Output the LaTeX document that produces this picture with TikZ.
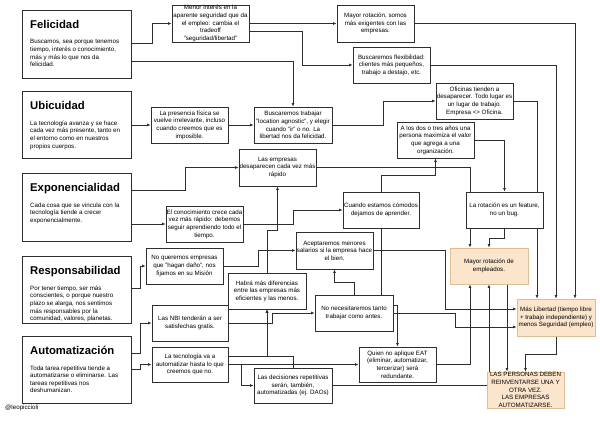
\documentclass[tikz,border=0pt]{standalone}
\usepackage{fontspec}
\setmainfont{Liberation Sans}
\usetikzlibrary{arrows.meta}
\pgfdeclarelayer{bg}
\pgfsetlayers{bg,main}
\definecolor{ln}{HTML}{2E2E2E}
\definecolor{ofill}{HTML}{FCE5CD}
\definecolor{odraw}{HTML}{E2BC8E}
\begin{document}
\begin{tikzpicture}[x=1pt,y=-1pt,
  sb/.style={draw=ln, line width=0.9pt, fill=white, inner sep=0pt, align=center, font=\fontsize{6.2}{7.6}\selectfont},
  ob/.style={sb, fill=ofill, draw=odraw},
  bigbox/.style={draw=ln, line width=0.9pt, fill=white, inner sep=0pt},
  ttl/.style={anchor=base west, inner sep=0pt, font=\fontsize{11.3}{13}\selectfont\bfseries},
  bdy/.style={anchor=north west, inner sep=0pt, align=left, font=\fontsize{6.2}{7.6}\selectfont},
  con/.style={draw=ln, line width=0.9pt, -{Latex[length=3.5pt,width=3pt]}},
  cred/.style={anchor=west, inner sep=0pt, font=\fontsize{6.2}{7.6}\selectfont}
]
\useasboundingbox (0,0) rectangle (600,423);
\begin{pgfonlayer}{bg}
\fill[white] (0,0) rectangle (600,423);
\end{pgfonlayer}

% big boxes
\node[bigbox, minimum width=109pt, minimum height=68pt] (fel) at (76.5,44) {};
\node[ttl] (felt) at (30,28) {Felicidad};
\node[bdy] (felb) at (30,39.5) {Buscamos, sea porque tenemos\\tiempo, interés o conocimiento,\\más y más lo que nos da\\felicidad.};

\node[bigbox, minimum width=109pt, minimum height=67pt] (ubi) at (76.5,124.5) {};
\node[ttl] (ubit) at (30,109) {Ubicuidad};
\node[bdy] (ubib) at (30,120.5) {La tecnología avanza y se hace\\cada vez más presente, tanto en\\el entorno como en nuestros\\propios cuerpos.};

\node[bigbox, minimum width=109pt, minimum height=68pt] (exp) at (76.5,207) {};
\node[ttl] (expt) at (30,191) {Exponencialidad};
\node[bdy] (expb) at (30,202.5) {Cada cosa que se vincula con la\\tecnología tiende a crecer\\exponencialmente.};

\node[bigbox, minimum width=109pt, minimum height=67pt] (res) at (76.5,289.5) {};
\node[ttl] (rest) at (30,274) {Responsabilidad};
\node[bdy] (resb) at (30,285.5) {Por tener tiempo, ser más\\conscientes, o porque nuestro\\plazo se alarga, nos sentimos\\más responsables por la\\comunidad, valores, planetas.};

\node[bigbox, minimum width=109pt, minimum height=67pt] (aut) at (76.5,369.5) {};
\node[ttl] (autt) at (30,354) {Automatización};
\node[bdy] (autb) at (30,365.5) {Toda tarea repetitiva tiende a\\automatizarse o eliminarse. Las\\tareas repetitivas nos\\deshumanizan.};

\node[cred] (credit) at (5,408) {@leopiccioli};

% small boxes
\node[sb, minimum width=77pt, minimum height=37pt] (menor) at (210.5,23.5) {Menor interés en la\\aparente seguridad que da\\el empleo: cambia el\\tradeoff\\"seguridad/libertad"};
\node[sb, minimum width=77pt, minimum height=37pt] (mayrotA) at (375.5,23.5) {Mayor rotación, somos\\más exigentes con las\\empresas.};
\node[sb, minimum width=77pt, minimum height=36pt] (flex) at (391.5,65) {Buscaremos flexibilidad:\\clientes más pequeños,\\trabajo a destajo, etc.};
\node[sb, minimum width=77pt, minimum height=36pt] (ofic) at (474.5,101) {Oficinas tienden a\\desaparecer. Todo lugar es\\un lugar de trabajo.\\Empresa <> Oficina.};
\node[sb, minimum width=77pt, minimum height=36pt] (alos) at (435.5,140) {A los dos o tres años una\\persona maximiza el valor\\que agrega a una\\organización.};
\node[sb, minimum width=77pt, minimum height=36pt] (pres) at (189.5,125) {La presencia física se\\vuelve irrelevante, incluso\\cuando creemos que es\\imposible.};
\node[sb, minimum width=78pt, minimum height=36pt] (btrab) at (293,125) {Buscaremos trabajar\\"location agnostic", y elegir\\cuando "ir" o no. La\\libertad nos da felicidad.};
\node[sb, minimum width=77pt, minimum height=37pt] (lemp) at (277.5,167.5) {Las empresas\\desaparecen cada vez más\\rápido};
\node[sb, minimum width=77pt, minimum height=36pt] (conoc) at (204.5,224) {El conocimiento crece cada\\vez más rápido: debemos\\seguir aprendiendo todo el\\tiempo.};
\node[sb, minimum width=76pt, minimum height=36pt] (cuando) at (381,210) {Cuando estamos cómodos\\dejamos de aprender.};
\node[sb, minimum width=77pt, minimum height=36pt] (larot) at (504.5,210) {La rotación es un feature,\\no un bug.};
\node[sb, minimum width=77pt, minimum height=36pt] (noq) at (184.5,266) {No queremos empresas\\que "hagan daño", nos\\fijamos en su Misión};
\node[sb, minimum width=77pt, minimum height=37pt] (acept) at (334.5,250.5) {Aceptaremos menores\\salarios si la empresa hace\\el bien.};
\node[ob, minimum width=78pt, minimum height=36pt] (mayrot) at (489,266) {Mayor rotación de\\empleados.};
\node[sb, minimum width=78pt, minimum height=36pt] (habra) at (267,291) {Habrá más diferencias\\entre las empresas más\\eficientes y las menos.};
\node[sb, minimum width=76pt, minimum height=36pt] (nbi) at (190,323) {Las NBI tenderán a ser\\satisfechas gratis.};
\node[sb, minimum width=78pt, minimum height=36pt] (nonec) at (354,313) {No necesitaremos tanto\\trabajar como antes.};
\node[ob, minimum width=78pt, minimum height=37pt] (mas) at (556,317.5) {Más Libertad (tiempo libre\\+ trabajo independiente) y\\menos Seguridad (empleo)};
\node[sb, minimum width=76pt, minimum height=35pt] (tec) at (190,364.5) {La tecnología va a\\automatizar hasta lo que\\creemos que no.};
\node[sb, minimum width=77pt, minimum height=35pt] (quien) at (397.5,364.5) {Quien no aplique EAT\\(eliminar, automatizar,\\tercerizar) será\\redundante.};
\node[sb, minimum width=78pt, minimum height=35pt] (dec) at (293,385.5) {Las decisiones repetitivas\\serán, también,\\automatizadas (ej. DAOs)};
\node[ob, minimum width=77pt, minimum height=36pt] (lasp) at (525.5,390) {LAS PERSONAS DEBEN\\REINVENTARSE UNA Y\\OTRA VEZ.\\LAS EMPRESAS\\AUTOMATIZARSE.};

\begin{pgfonlayer}{bg}
\draw[con] (fel.east |- 0,43) -- (152,43) |- (menor.west);
\draw[con] (fel.east |- 0,61) -| (btrab.north);
\draw[con] (ubi.east |- pres.west) -- (pres.west);
\draw[con] (pres.east) -- (btrab.west);
\draw[con] (btrab.east) -- (383,125) |- (ofic.west);
\draw[con] (menor.east) -- (mayrotA.west);
\draw[con] (menor.east |- 0,31) -- (302,31) |- (flex.west);
\draw[con] (mayrotA.east) -| (mas.north -| 575,0);
\draw[con] (flex.east) -| (mas.north);
\draw[con] (ofic.east) -| (mas.north -| 537,0);
\draw[con] (alos.east) -| (larot.north);
\draw[con] (cuando.north) -- (381,175) -| (alos.south);
\draw[con] (conoc.east) -- (293,224) |- (cuando.west);
\draw[con] (exp.east |- 0,190) -- (185,190) |- (lemp.west);
\draw[con] (exp.east |- conoc.west) -- (conoc.west);
\draw[con] (lemp.east) -| (mayrot.north -| 470,0);
\draw[con] (larot.south) -- (504.5,238) -| (mayrot.north);
\draw[con] (habra.north) -- (267,230) -| (lemp.south);
\draw[con] (res.east |- 0,288) -- (140,288) |- (noq.west);
\draw[con] (noq.east) -- (258,266) |- (acept.west);
\draw[con] (acept.east) -- (445,250.5) |- (mas.west |- 0,309);
\draw[con] (nonec.north) -- (354,282) -| (acept.south);
\draw[con] (nonec.east) -- (455,313) |- (mas.west |- 0,327);
\draw[con] (nbi.east) -- (272,323) |- (nonec.west);
\draw[con] (aut.east |- 0,353) -- (140,353) |- (nbi.west);
\draw[con] (aut.east |- 0,369) -- (140,369) |- (tec.west);
\draw[con] (tec.east) -- (quien.west);
\draw[con] (tec.east) -- (241,364.5) |- (dec.west);
\draw[con] (tec.east |- 0,356) -| (habra.south);
\draw[con] (dec.north) -- (293,356) -| (habra.south);
\draw[con] (cuando.south) -- (381,305) -| (quien.north);
\draw[con] (quien.east) -| (mayrot.south -| 470,0);
\draw[con] (dec.east) -| (mayrot.south);
\draw[con] (mayrot.south -| 507,0) -- (lasp.north -| 507,0);
\draw[con] (mas.south) -- (556,354) -| (lasp.north);
\end{pgfonlayer}
\end{tikzpicture}
\end{document}
